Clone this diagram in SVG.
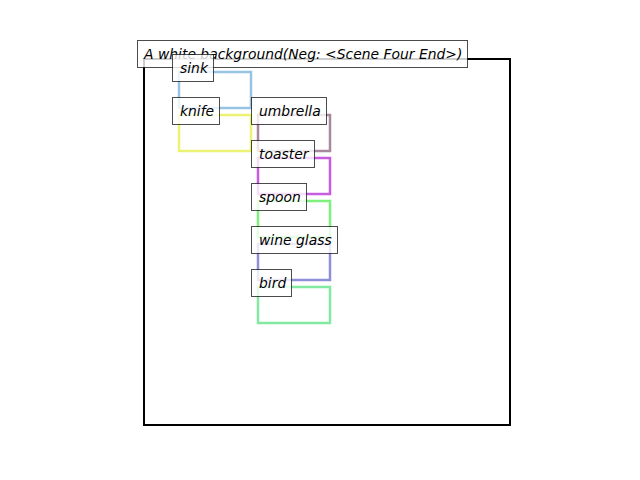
<svg xmlns="http://www.w3.org/2000/svg" width="640" height="480" viewBox="0 0 640 480">
  <style>
    .frame { fill: none; stroke: #000; stroke-width: 2; }
    .box { fill: none; stroke-width: 2.5; stroke-linejoin: miter; }
    .tag rect { fill: #fff; fill-opacity: 0.8; stroke: #000; stroke-opacity: 0.7; stroke-width: 1; }
    .tag text { font-family: "DejaVu Sans", sans-serif; font-style: oblique; font-size: 13.9px; fill: #000; }
  </style>
  <rect width="640" height="480" fill="#fff"/>

  <!-- axes frame -->
  <rect class="frame" x="144" y="59" width="366" height="366"/>

  <!-- object regions -->
  <g id="regions">
    <rect class="box" x="179" y="72" width="72" height="36" stroke="#97c4e2"/>
    <rect class="box" x="179" y="115" width="72" height="36" stroke="#ecf276"/>
    <rect class="box" x="258" y="115" width="72" height="36" stroke="#a7889e"/>
    <rect class="box" x="258" y="158" width="72" height="36" stroke="#c65de0"/>
    <rect class="box" x="258" y="201" width="72" height="36" stroke="#7df07d"/>
    <rect class="box" x="258" y="244" width="72" height="36" stroke="#8f8fd8"/>
    <rect class="box" x="258" y="287" width="72" height="36" stroke="#82eaa0"/>
  </g>

  <!-- caption -->
  <g id="title" class="tag">
    <rect x="137.5" y="40.5" width="330" height="27"/>
    <text x="144" y="59">A white background(Neg: &lt;Scene Four End&gt;)</text>
  </g>

  <!-- labels -->
  <g id="sink" class="tag">
    <rect x="172.5" y="54.5" width="41" height="27"/>
    <text x="180" y="73">sink</text>
  </g>
  <g id="knife" class="tag">
    <rect x="172.5" y="97.5" width="47" height="27"/>
    <text x="180" y="116">knife</text>
  </g>
  <g id="umbrella" class="tag">
    <rect x="251.5" y="97.5" width="75" height="27"/>
    <text x="259" y="116">umbrella</text>
  </g>
  <g id="toaster" class="tag">
    <rect x="251.5" y="140.5" width="63" height="27"/>
    <text x="259" y="159">toaster</text>
  </g>
  <g id="spoon" class="tag">
    <rect x="251.5" y="183.5" width="55" height="27"/>
    <text x="259" y="202">spoon</text>
  </g>
  <g id="wine-glass" class="tag">
    <rect x="251.5" y="226.5" width="86" height="27"/>
    <text x="259" y="245">wine glass</text>
  </g>
  <g id="bird" class="tag">
    <rect x="251.5" y="269.5" width="40" height="27"/>
    <text x="259" y="288">bird</text>
  </g>
</svg>
